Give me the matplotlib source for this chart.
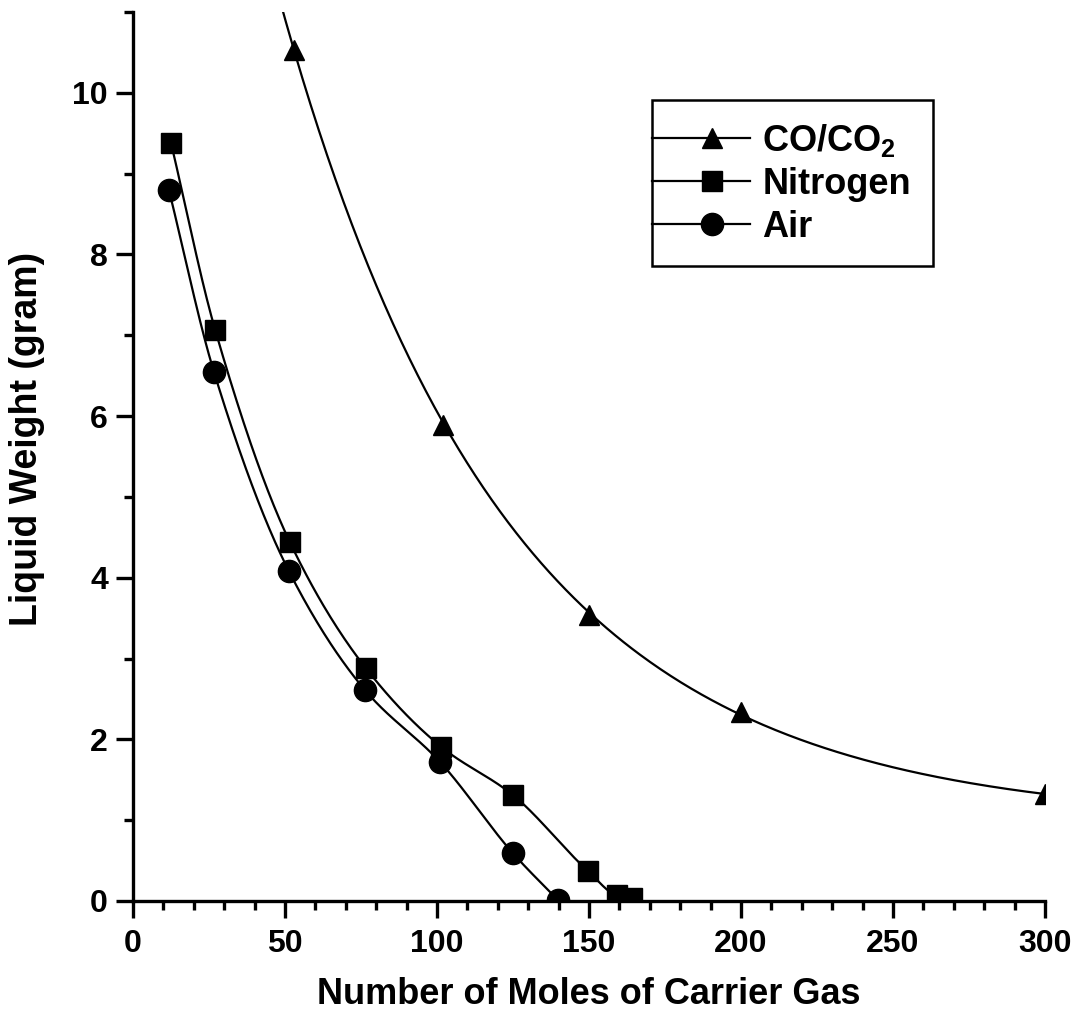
import numpy as np
import matplotlib
matplotlib.use("Agg")
import matplotlib.pyplot as plt
from matplotlib.ticker import MultipleLocator
from matplotlib.legend_handler import HandlerLine2D

plt.rcParams['font.family'] = ['Liberation Sans', 'DejaVu Sans']
plt.rcParams['font.weight'] = 'bold'
plt.rcParams['mathtext.fontset'] = 'custom'
plt.rcParams['mathtext.rm'] = 'Liberation Sans:bold'
plt.rcParams['mathtext.bf'] = 'Liberation Sans:bold'

# Measured liquid weight vs. moles of carrier gas
co_x = [53, 102, 150, 200, 300]
co_y = [10.53, 5.89, 3.54, 2.34, 1.32]

n2_x = [12.5, 27.0, 51.6, 76.6, 101.3, 125.0, 149.7, 159.2, 164.1]
n2_y = [9.38, 7.07, 4.44, 2.88, 1.91, 1.31, 0.37, 0.07, 0.04]

air_x = [11.8, 26.6, 51.3, 76.3, 101.0, 125.0, 139.8]
air_y = [8.80, 6.55, 4.08, 2.61, 1.72, 0.59, 0.01]

x_ticks = [0, 50, 100, 150, 200, 250, 300]
y_ticks = [0, 2, 4, 6, 8, 10]


def pchip(x, y, xs):
    """Monotone piecewise cubic Hermite interpolation."""
    x = np.asarray(x, float)
    y = np.asarray(y, float)
    h = np.diff(x)
    d = np.diff(y) / h
    n = len(x)
    m = np.zeros(n)
    for k in range(1, n - 1):
        if d[k - 1] * d[k] > 0:
            w1 = 2 * h[k] + h[k - 1]
            w2 = h[k] + 2 * h[k - 1]
            m[k] = (w1 + w2) / (w1 / d[k - 1] + w2 / d[k])
    m[0] = d[0]
    m[-1] = d[-1]
    idx = np.clip(np.searchsorted(x, xs) - 1, 0, n - 2)
    t = (xs - x[idx]) / h[idx]
    h00 = 2 * t**3 - 3 * t**2 + 1
    h10 = t**3 - 2 * t**2 + t
    h01 = -2 * t**3 + 3 * t**2
    h11 = t**3 - t**2
    return (h00 * y[idx] + h10 * h[idx] * m[idx]
            + h01 * y[idx + 1] + h11 * h[idx] * m[idx + 1])


def exp_decay_fit(x, y):
    """Least-squares fit of y = y0 + A*exp(-x/t) by scanning the offset."""
    x = np.asarray(x, float)
    y = np.asarray(y, float)
    best = None
    for y0 in np.linspace(-2, min(y) - 0.01, 400):
        b, a = np.polyfit(x, np.log(y - y0), 1)
        pred = y0 + np.exp(a + b * x)
        err = np.sum((pred - y) ** 2)
        if best is None or err < best[0]:
            best = (err, y0, a, b)
    _, y0, a, b = best
    return lambda xs: y0 + np.exp(a + b * xs)


fig = plt.figure(figsize=(10.78, 10.19), dpi=100)
ax = fig.add_axes([0.1234, 0.1158, 0.846, 0.8724])

line_kw = dict(color='black', lw=1.6)
mk_kw = dict(color='black', ls='none')

# CO/CO2: exponential decay fit through the triangles
co_fit = exp_decay_fit(co_x, co_y)
xs_co = np.linspace(30, 300, 400)
ax.plot(xs_co, co_fit(xs_co), **line_kw)
ax.plot(co_x, co_y, marker='^', ms=15, **mk_kw)

# Nitrogen and air: smooth curves through the measured points
xs_n2 = np.linspace(n2_x[0], n2_x[-1], 400)
ax.plot(xs_n2, pchip(n2_x, n2_y, xs_n2), **line_kw)
ax.plot(n2_x, n2_y, marker='s', ms=14, **mk_kw)

xs_air = np.linspace(air_x[0], air_x[-1], 400)
ax.plot(xs_air, pchip(air_x, air_y, xs_air), **line_kw)
ax.plot(air_x, air_y, marker='o', ms=16, **mk_kw)

ax.set_xlim(0, 300)
ax.set_ylim(0, 11)
ax.set_xticks(x_ticks)
ax.set_yticks(y_ticks)
ax.xaxis.set_minor_locator(MultipleLocator(10))
ax.yaxis.set_minor_locator(MultipleLocator(1))

for s in ('top', 'right'):
    ax.spines[s].set_visible(False)
for s in ('left', 'bottom'):
    ax.spines[s].set_linewidth(2.4)

ax.tick_params(which='major', length=12, width=2.4, labelsize=23, pad=6)
ax.tick_params(which='minor', length=6.5, width=2.4)
ax.tick_params(axis='x', which='major', pad=8)

ax.set_xlabel('Number of Moles of Carrier Gas', fontsize=26, fontweight='bold')
ax.xaxis.set_label_coords(0.5, -0.085)
ax.set_ylabel('Liquid Weight (gram)', fontsize=27, fontweight='bold')
ax.yaxis.set_label_coords(-0.097, 0.52)


class EdgeLineHandler(HandlerLine2D):
    """Legend line that reaches the left edge of the legend frame."""
    def create_artists(self, legend, orig_handle, xdescent, ydescent,
                       width, height, fontsize, trans):
        arts = super().create_artists(legend, orig_handle, xdescent, ydescent,
                                      width, height, fontsize, trans)
        pad = legend.borderpad * fontsize
        xd = np.array(arts[0].get_xdata(), float)
        xd[0] -= pad
        arts[0].set_xdata(xd)
        return arts


h_co = plt.Line2D([], [], marker='^', ms=15, **line_kw)
h_n2 = plt.Line2D([], [], marker='s', ms=14, **line_kw)
h_air = plt.Line2D([], [], marker='o', ms=16, **line_kw)
leg = fig.legend([h_co, h_n2, h_air],
                 [r'CO/CO$_\mathregular{2}$', 'Nitrogen', 'Air'],
                 loc='upper left', bbox_to_anchor=(652 / 1078, 1 - 100 / 1019),
                 borderaxespad=0,
                 fontsize=26, frameon=True, fancybox=False, framealpha=1,
                 edgecolor='black', handlelength=2.1, handletextpad=0.36,
                 borderpad=0.6, labelspacing=0.22, numpoints=1,
                 handler_map={plt.Line2D: EdgeLineHandler()})
leg.get_frame().set_linewidth(1.8)

fig.savefig('out.png', dpi=100)
